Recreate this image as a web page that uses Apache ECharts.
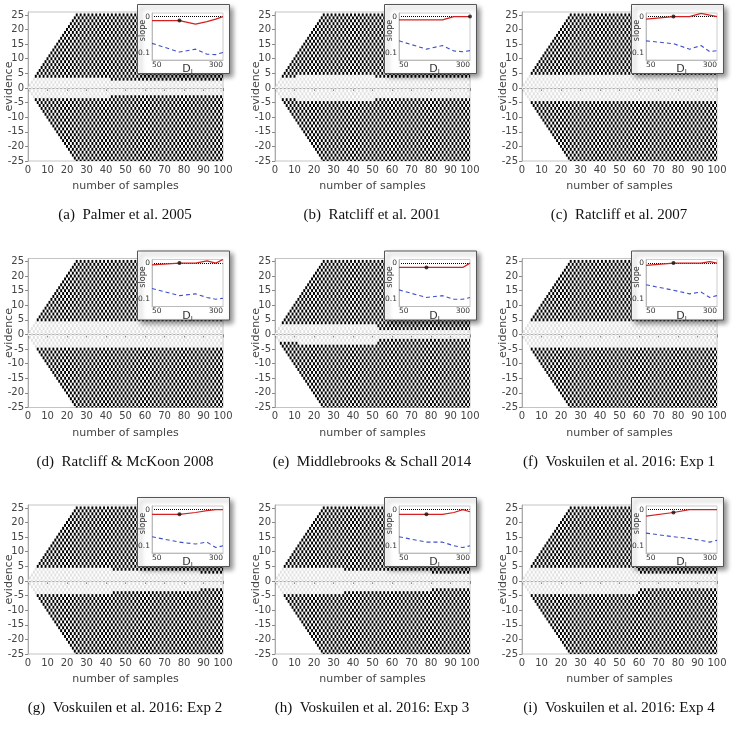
<!DOCTYPE html>
<html><head><meta charset="utf-8">
<script src="https://cdn.jsdelivr.net/npm/echarts@6/dist/echarts.min.js"></script>
<style>html,body{margin:0;padding:0;background:#fff}#c{width:739px;height:733px}</style>
</head><body><div id="c"></div>
<script>
// ---------- data ----------
const captions = ['(a)  Palmer et al. 2005', '(b)  Ratcliff et al. 2001', '(c)  Ratcliff et al. 2007',
  '(d)  Ratcliff & McKoon 2008', '(e)  Middlebrooks & Schall 2014', '(f)  Voskuilen et al. 2016: Exp 1',
  '(g)  Voskuilen et al. 2016: Exp 2', '(h)  Voskuilen et al. 2016: Exp 3', '(i)  Voskuilen et al. 2016: Exp 4'];
const xTicks = [0, 10, 20, 30, 40, 50, 60, 70, 80, 90, 100];
const yTicks = [-25, -20, -15, -10, -5, 0, 5, 10, 15, 20, 25];
// decision bound (|evidence|) : step starts (sample index) and values
const upperStarts = [[0, 43], [0, 12, 52], [0], [0], [0, 53], [0], [0, 43, 88], [0, 35, 80], [0, 60]];
const upperBounds = [[4, 3], [4, 5, 4], [5], [5], [4, 2], [5], [5, 4, 3], [5, 4, 3], [5, 3]];
const lowerStarts = [[0, 43], [0, 12, 52], [0], [0], [0, 12, 53], [0], [0, 43, 88], [0, 35, 80], [0, 60]];
const lowerBounds = [[4, 3], [4, 5, 4], [5], [5], [3, 4, 2], [5], [5, 4, 3], [5, 4, 3], [5, 3]];
// inset
const dI = [50, 100, 150, 200, 250, 300];
const redSlope = [
  [0.011, 0.011, 0.021, 0.014, 0.007, 0.0],
  [0.009, 0.009, 0.009, 0.0, 0.0, 0.0],
  [0.007, 0.0, 0.0, -0.009, -0.004, 0.0],
  [0.005, 0.0, 0.0, -0.006, 0.0, -0.01],
  [0.012, 0.012, 0.012, 0.012, 0.012, 0.0],
  [0.006, 0.0, 0.0, 0.0, -0.004, 0.0],
  [0.013, 0.013, 0.008, 0.003, 0.0, 0.0],
  [0.013, 0.013, 0.013, 0.008, 0.0, 0.006],
  [0.018, 0.008, 0.0, 0.0, 0.0, 0.0]];
const blueSlope = [
  [0.074, 0.098, 0.090, 0.104, 0.105, 0.099],
  [0.067, 0.090, 0.080, 0.095, 0.097, 0.094],
  [0.067, 0.075, 0.090, 0.080, 0.097, 0.094],
  [0.070, 0.090, 0.085, 0.095, 0.100, 0.097],
  [0.074, 0.095, 0.090, 0.100, 0.100, 0.095],
  [0.060, 0.075, 0.085, 0.080, 0.095, 0.090],
  [0.075, 0.090, 0.095, 0.090, 0.105, 0.100],
  [0.075, 0.090, 0.090, 0.100, 0.105, 0.100],
  [0.065, 0.075, 0.080, 0.085, 0.090, 0.085]];
const chosenIdx = [1, 5, 1, 1, 1, 1, 1, 1, 1];

// ---------- layout ----------
const colX = [28, 275, 522];
const rowY = [12, 258.5, 505];
const PW = 195, PH = 149;

function boundAt(starts, vals, t) {
  let b = vals[0];
  for (let i = 0; i < starts.length; i++) if (t >= starts[i]) b = vals[i];
  return b;
}
function cellsFor(p) {
  const out = [];
  for (let t = 0; t <= 100; t++) {
    for (let e = -25; e <= 25; e++) {
      if (Math.abs(e) > t || ((t + e) % 2 !== 0)) continue;
      let dark = 0;
      if (e > 0 && e >= boundAt(upperStarts[p], upperBounds[p], t)) dark = 1;
      if (e < 0 && -e >= boundAt(lowerStarts[p], lowerBounds[p], t)) dark = 1;
      out.push([t, e, dark]);
    }
  }
  return out;
}
function renderCell(params, api) {
  const t = api.value(0), e = api.value(1), d = api.value(2);
  const a = api.coord([t - 0.5, e + 0.5]);
  const b = api.coord([t + 0.5, e - 0.5]);
  const cs = params.coordSys;
  const r = echarts.graphic.clipRectByRect(
    { x: a[0], y: a[1], width: b[0] - a[0], height: b[1] - a[1] },
    { x: cs.x, y: cs.y, width: cs.width, height: cs.height });
  if (!r) return null;
  return { type: 'rect', shape: r, style: { fill: d ? '#000' : '#e1e1e1' } };
}

const grid = [], xAxis = [], yAxis = [], series = [], title = [], graphic = [];
const labelFont = { fontFamily: 'DejaVu Sans', fontSize: 10, color: '#444' };
const insetFont = { fontFamily: 'DejaVu Sans', fontSize: 7.5, color: '#333' };
for (let p = 0; p < 9; p++) {
  const c = p % 3, r = Math.floor(p / 3);
  const L = colX[c], T = rowY[r];
  // main grid
  grid.push({ left: L, top: T, width: PW, height: PH, show: true, borderColor: '#c4c4c4', borderWidth: 1,
    backgroundColor: 'transparent', containLabel: false, outerBoundsMode: 'none' });
  xAxis.push({ gridIndex: 2 * p, type: 'value', min: 0, max: 100, interval: 10, nameMoveOverlap: false,
    axisLine: { lineStyle: { color: '#aaa' } }, axisTick: { length: 3, lineStyle: { color: '#888' } },
    splitLine: { show: false },
    axisLabel: Object.assign({ margin: 4, customValues: xTicks }, labelFont),
    name: 'number of samples', nameLocation: 'middle', nameGap: 20,
    nameTextStyle: { fontFamily: 'DejaVu Sans', fontSize: 11, color: '#444' } });
  yAxis.push({ gridIndex: 2 * p, type: 'value', min: -25, max: 26, interval: 5, nameMoveOverlap: false,
    axisLine: { show: true, lineStyle: { color: '#aaa' } }, axisTick: { show: true, length: 3, customValues: yTicks, lineStyle: { color: '#888' } },
    splitLine: { show: false },
    axisLabel: Object.assign({ margin: 4, customValues: yTicks }, labelFont),
    name: 'evidence', nameLocation: 'middle', nameGap: 13,
    nameTextStyle: { fontFamily: 'DejaVu Sans', fontSize: 11, color: '#444' } });
  series.push({ type: 'custom', xAxisIndex: 2 * p, yAxisIndex: 2 * p, data: cellsFor(p), renderItem: renderCell, z: 1, silent: true, animation: false });

  // inset
  graphic.push({ type: 'rect', left: L + 109, top: T - 8, shape: { width: 92, height: 69 }, z: 5,
    style: { fill: '#fff', stroke: '#555', lineWidth: 1, shadowBlur: 5, shadowOffsetX: 3, shadowOffsetY: 3, shadowColor: 'rgba(0,0,0,0.45)' } });
  grid.push({ left: L + 124, top: T + 1, width: 71, height: 47, show: true, borderColor: '#ccc', borderWidth: 1, z: 6,
    backgroundColor: 'transparent', containLabel: false, outerBoundsMode: 'none' });
  xAxis.push({ gridIndex: 2 * p + 1, type: 'log', min: 50, max: 300, z: 7, nameMoveOverlap: false,
    axisLine: { onZero: false, lineStyle: { color: '#bbb' } }, axisTick: { show: false }, splitLine: { show: false }, minorTick: { show: false },
    axisLabel: Object.assign({ customValues: [50, 300], margin: 1, alignMinLabel: 'left', alignMaxLabel: 'right' }, insetFont),
    name: 'D{s|I}', nameLocation: 'middle', nameGap: 3,
    nameTextStyle: { fontFamily: 'DejaVu Sans', fontSize: 11, color: '#333', rich: { s: { fontSize: 7, padding: [6, 0, 0, 0] } } } });
  yAxis.push({ gridIndex: 2 * p + 1, type: 'value', inverse: true, min: -0.01, max: 0.12, z: 7, nameMoveOverlap: false,
    axisLine: { show: true, lineStyle: { color: '#bbb' } }, axisTick: { show: false }, splitLine: { show: false },
    axisLabel: Object.assign({ customValues: [0, 0.1], margin: 2 }, insetFont),
    name: 'slope', nameLocation: 'middle', nameGap: 5,
    nameTextStyle: { fontFamily: 'DejaVu Sans', fontSize: 8, color: '#333', padding: [0, 0, 0, 12] } });
  series.push({ type: 'line', xAxisIndex: 2 * p + 1, yAxisIndex: 2 * p + 1, z: 8, animation: false,
    data: dI.map((d, i) => [d, redSlope[p][i]]), showSymbol: false, symbol: 'none',
    lineStyle: { color: '#d42020', width: 1.2 },
    markLine: { silent: true, symbol: 'none', label: { show: false }, animation: false,
      lineStyle: { color: '#000', type: 'dotted', width: 1 }, data: [{ yAxis: 0 }] } });
  series.push({ type: 'line', xAxisIndex: 2 * p + 1, yAxisIndex: 2 * p + 1, z: 8, animation: false,
    data: dI.map((d, i) => [d, blueSlope[p][i]]), symbol: 'none',
    lineStyle: { color: '#4050c8', width: 1.1, type: [4, 3] } });
  series.push({ type: 'scatter', xAxisIndex: 2 * p + 1, yAxisIndex: 2 * p + 1, z: 9, animation: false,
    data: [[dI[chosenIdx[p]], redSlope[p][chosenIdx[p]]]], symbolSize: 4, itemStyle: { color: '#111' } });

  title.push({ text: captions[p], left: L + 92, top: T + 191, textAlign: 'center',
    textStyle: { fontFamily: 'Liberation Serif', fontSize: 15, fontWeight: 'normal', color: '#111' } });
}

const chart = echarts.init(document.getElementById('c'), null, { renderer: 'canvas' });
chart.setOption({ animation: false, grid, xAxis, yAxis, series, title, graphic });
</script></body></html>
